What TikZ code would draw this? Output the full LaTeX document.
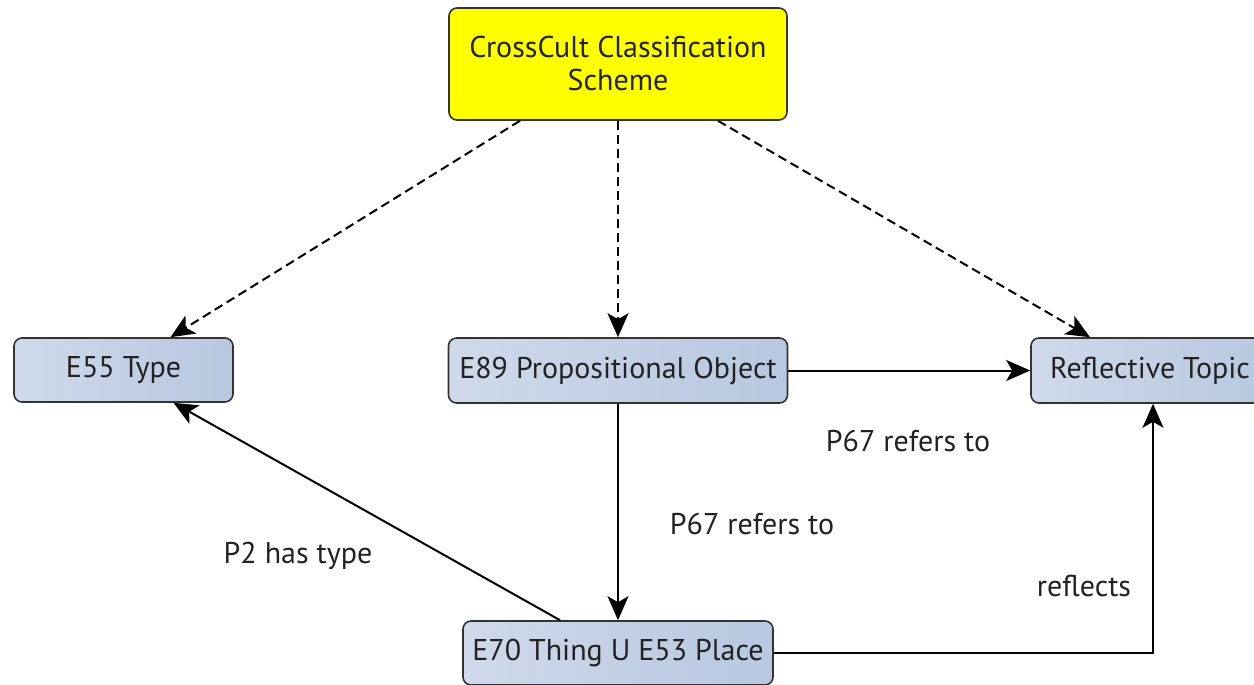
\documentclass[tikz,border=0pt]{standalone}
\usepackage{fontspec}
\setmainfont{PT Sans}
\usetikzlibrary{arrows.meta}
\definecolor{boxl}{HTML}{CFD9EA}
\definecolor{boxm}{HTML}{E8EEF7}
\definecolor{boxr}{HTML}{B7C8E0}
\definecolor{txt}{HTML}{222222}
\definecolor{edge}{HTML}{333333}
\definecolor{ylw}{HTML}{FFFF00}
\begin{document}
\begin{tikzpicture}[x=1pt,y=-1pt,
  box/.style={draw=edge, line width=1.6pt, rounded corners=8pt, inner sep=0pt, text=txt,
    font=\fontsize{30}{33}\selectfont, align=center},
  entity/.style={box, left color=boxl, middle color=boxm, right color=boxr},
  conn/.style={line width=2pt, -{Stealth[length=24pt,width=21pt,inset=6pt]}},
  dconn/.style={conn, dash pattern=on 9pt off 5pt},
  lbl/.style={text=txt, font=\fontsize{30}{33}\selectfont, inner sep=0pt}]
\useasboundingbox (0,0) rectangle (1254,685);
\clip (0,0) rectangle (1254,685);
\node[box, fill=ylw, minimum width=338pt, minimum height=112pt] (cc) at (618,64) {CrossCult Classification\\Scheme};
\node[entity, minimum width=219pt, minimum height=64pt] (e55) at (123.5,370) {E55 Type};
\node[entity, minimum width=339pt, minimum height=65pt] (e89) at (618,370.5) {E89 Propositional Object};
\node[entity, minimum width=238pt, minimum height=65pt] (rt) at (1150,370.5) {Reflective Topic};
\node[entity, minimum width=310pt, minimum height=64pt] (e70) at (618,653) {E70 Thing U E53 Place};
\draw[dconn] ([xshift=-98pt]cc.south) -- ([xshift=47pt]e55.north);
\draw[dconn] (cc.south) -- (e89.north);
\draw[dconn] ([xshift=100pt]cc.south) -- ([xshift=-60pt]rt.north);
\draw[conn] (e89.east) -- (rt.west);
\draw[conn] (e89.south) -- (e70.north);
\draw[conn] ([xshift=-58pt]e70.north) -- ([xshift=50pt]e55.south);
\draw[conn] (e70.east) -| ([xshift=3pt]rt.south);
\node[lbl] (l1) at (908,441) {P67 refers to};
\node[lbl] (l2) at (752,524) {P67 refers to};
\node[lbl] (l3) at (298,556) {P2 has type};
\node[lbl] (l4) at (1084,586) {reflects};
\end{tikzpicture}
\end{document}
